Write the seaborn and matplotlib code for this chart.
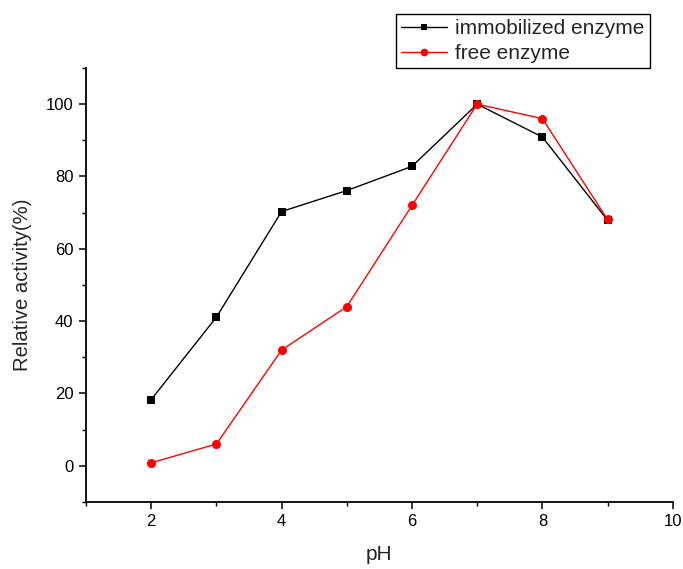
import matplotlib
matplotlib.use("Agg")
import matplotlib.pyplot as plt
from matplotlib.ticker import MultipleLocator
import seaborn as sns
import pandas as pd

# pH profile of relative enzyme activity
ph = [2, 3, 4, 5, 6, 7, 8, 9]
immobilized = [18.3, 41.1, 70.3, 76.1, 82.8, 100.0, 90.9, 67.9]
free = [0.8, 6.0, 32.0, 44.0, 72.0, 100.0, 96.0, 68.1]

sns.set_theme(style="ticks")
plt.rcParams["font.family"] = ["Liberation Sans", "DejaVu Sans"]

fig = plt.figure(figsize=(6.83, 5.69), dpi=100)
ax = fig.add_axes([0.126, 0.118, 0.859, 0.7625])

df_imm = pd.DataFrame({"pH": ph, "activity": immobilized})
df_free = pd.DataFrame({"pH": ph, "activity": free})

sns.lineplot(data=df_imm, x="pH", y="activity", ax=ax, color="black",
             marker="s", markersize=5.5, markeredgewidth=0, linewidth=1.0,
             label="immobilized enzyme")
sns.lineplot(data=df_free, x="pH", y="activity", ax=ax, color="red",
             marker="o", markersize=6.5, markeredgewidth=0, linewidth=1.0,
             label="free enzyme")

ax.set_xlim(1, 10)
ax.set_ylim(-10, 110)
ax.xaxis.set_major_locator(MultipleLocator(2))
ax.xaxis.set_minor_locator(MultipleLocator(1))
ax.yaxis.set_minor_locator(MultipleLocator(10))
ax.set_yticks([0, 20, 40, 60, 80, 100])

for side in ("top", "right"):
    ax.spines[side].set_visible(False)
for side in ("left", "bottom"):
    ax.spines[side].set_linewidth(1.3)
    ax.spines[side].set_color("black")

ax.tick_params(which="major", length=5, width=1.1, labelsize=12, colors="black", pad=4)
ax.tick_params(which="minor", length=3, width=1.0, colors="black")

ax.set_xlabel("pH", fontsize=15, labelpad=11)
ax.set_ylabel("Relative activity(%)", fontsize=14.6, labelpad=10)

leg = ax.legend(loc="upper left", bbox_to_anchor=(0.58, 0.976),
                bbox_transform=fig.transFigure, fontsize=15, frameon=True,
                fancybox=False, edgecolor="black", framealpha=1,
                handlelength=2.2, handletextpad=0.38, borderpad=0.25,
                labelspacing=0.3, borderaxespad=0, markerscale=0.85)
leg.get_frame().set_linewidth(1.0)

fig.savefig("out.png", dpi=100)
